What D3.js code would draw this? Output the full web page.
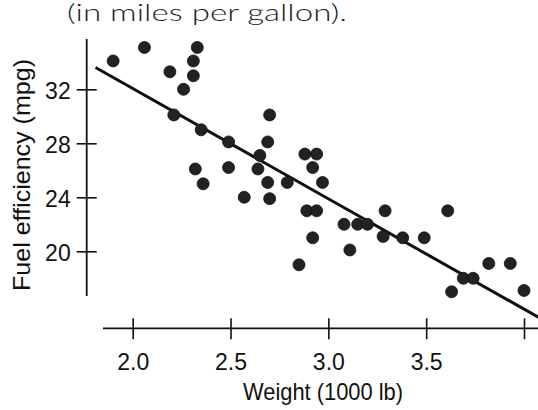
<!DOCTYPE html>
<html>
<head>
<meta charset="utf-8">
<script src="https://cdn.jsdelivr.net/npm/d3@7"></script>
<style>
  body { margin: 0; background: #fff; }
  svg { display: block; }
</style>
</head>
<body>
<svg class="chart"></svg>
<script>
const weights = [1.90, 2.06, 2.33, 2.31, 2.19, 2.31, 2.26, 2.21, 2.35, 2.49, 2.32,
  2.36, 2.49, 2.70, 2.69, 2.65, 2.64, 2.69, 2.57, 2.70, 2.79, 2.88, 2.94, 2.92,
  2.97, 2.89, 2.94, 2.92, 2.85, 3.08, 3.15, 3.20, 3.11, 3.29, 3.28, 3.38, 3.49,
  3.61, 3.82, 3.93, 3.69, 3.74, 3.63, 4.00];
const mpg = [34.1, 35.1, 35.1, 34.1, 33.3, 33.0, 32.0, 30.1, 29.0, 28.1, 26.1,
  25.0, 26.2, 30.1, 28.1, 27.1, 26.1, 25.1, 24.0, 23.9, 25.1, 27.2, 27.2, 26.2,
  25.1, 23.0, 23.0, 21.0, 19.0, 22.0, 22.0, 22.0, 20.1, 23.0, 21.1, 21.0, 21.0,
  23.0, 19.1, 19.1, 18.0, 18.0, 17.0, 17.1];

// Least squares line, as drawn
const fitIntercept = 48.4, fitSlope = -8.17;
const fitRange = [1.81, 4.08];

const xTicks = [2.0, 2.5, 3.0, 3.5, 4.0];
const xTickLabels = ['2.0', '2.5', '3.0', '3.5', ''];
const yTicks = [20, 24, 28, 32];

const svgWidth = 538, svgHeight = 410;
const svg = d3.select('.chart')
    .attr('width', svgWidth)
    .attr('height', svgHeight);

// Scales (pixel positions)
const x = d3.scaleLinear().domain([2.0, 4.0]).range([132.7, 524]);
const y = d3.scaleLinear().domain([20, 32]).range([251.3, 89.3]);

const axisY = 328.3, axisX = 86.7;
const font = '"Liberation Sans", Arial, Helvetica, sans-serif';

// Caption left over from the page above
svg.append('text')
    .attr('x', 67)
    .attr('y', 21)
    .attr('textLength', 280)
    .attr('lengthAdjust', 'spacingAndGlyphs')
    .style('font-family', 'Lato, "Open Sans", sans-serif')
    .style('font-size', '24px')
    .style('font-weight', 300)
    .style('fill', '#1e1e1e')
    .text('(in miles per gallon).');

// X axis
const xAxis = svg.append('g')
    .attr('transform', `translate(0,${axisY})`)
    .call(d3.axisBottom(x).tickValues(xTicks).tickFormat((d, i) => xTickLabels[i])
      .tickSizeInner(11).tickSizeOuter(0).tickPadding(14));
xAxis.select('.domain').remove();
xAxis.append('line')
    .attr('x1', 103).attr('x2', svgWidth)
    .attr('stroke', '#111').attr('stroke-width', 1.8);
xAxis.selectAll('.tick line')
    .attr('y1', -10).attr('y2', 11)
    .attr('stroke', '#111').attr('stroke-width', 1.6);
xAxis.selectAll('.tick text')
    .style('font-family', font)
    .style('font-size', '23px')
    .attr('fill', '#111');

// Y axis
const yAxis = svg.append('g')
    .attr('transform', `translate(${axisX},0)`)
    .call(d3.axisLeft(y).tickValues(yTicks).tickFormat(d3.format('d'))
      .tickSizeInner(10).tickSizeOuter(0).tickPadding(6));
yAxis.select('.domain').remove();
yAxis.append('line')
    .attr('y1', 39).attr('y2', 296)
    .attr('stroke', '#111').attr('stroke-width', 1.8);
yAxis.selectAll('.tick line')
    .attr('x1', -10).attr('x2', 10)
    .attr('stroke', '#111').attr('stroke-width', 1.6);
yAxis.selectAll('.tick text')
    .style('font-family', font)
    .style('font-size', '23px')
    .attr('dy', '0.4em')
    .attr('fill', '#111');

// Fitted line
svg.append('line')
    .attr('x1', x(fitRange[0]))
    .attr('y1', y(fitIntercept + fitSlope * fitRange[0]))
    .attr('x2', x(fitRange[1]))
    .attr('y2', y(fitIntercept + fitSlope * fitRange[1]))
    .attr('stroke', '#111')
    .attr('stroke-width', 3);

// Points
svg.selectAll('circle.pt')
    .data(weights)
    .enter()
    .append('circle')
    .attr('class', 'pt')
    .attr('cx', d => x(d))
    .attr('cy', (d, i) => y(mpg[i]))
    .attr('r', 6)
    .attr('fill', '#222')
    .attr('stroke', '#111')
    .attr('stroke-width', 0.8);

// Add X-Axis Label
svg.append('text')
    .attr('x', 323)
    .attr('y', 400)
    .attr('textLength', 160)
    .attr('lengthAdjust', 'spacingAndGlyphs')
    .style('text-anchor', 'middle')
    .style('font-family', font)
    .style('font-size', '24px')
    .attr('fill', '#111')
    .text('Weight (1000 lb)');

// Add Y-Axis Label
svg.append('text')
    .attr('transform', 'rotate(-90)')
    .attr('x', -175)
    .attr('y', 30)
    .attr('textLength', 232)
    .attr('lengthAdjust', 'spacingAndGlyphs')
    .style('text-anchor', 'middle')
    .style('font-family', font)
    .style('font-size', '24px')
    .attr('fill', '#111')
    .text('Fuel efficiency (mpg)');
</script>
</body>
</html>
